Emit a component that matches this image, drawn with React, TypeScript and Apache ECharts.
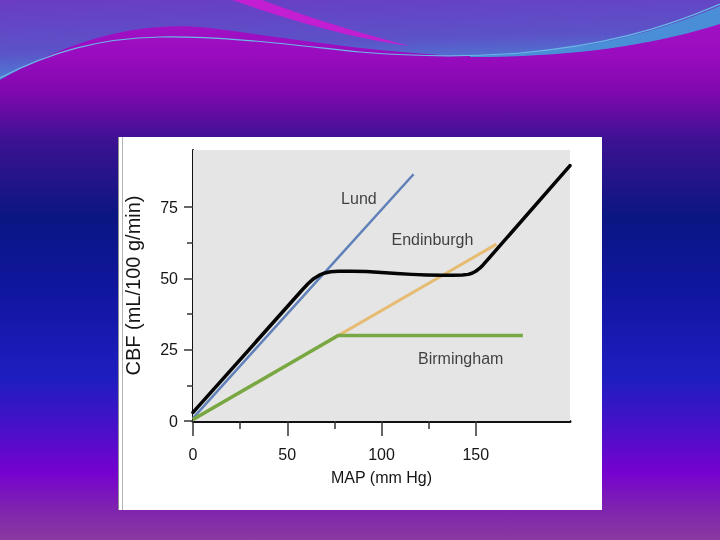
import React, { useEffect, useRef } from "react";
import * as echarts from "echarts";

// ---- data ----
const xMajorTicks = [0, 50, 100, 150];
const xMinorTicks = [25, 75, 125];
const yMajorTicks = [0, 25, 50, 75];
const yMinorTicks = [12.5, 37.5, 62.5];

const lundX = [0, 117];
const lundY = [1, 86.5];
const edinburghX = [0, 161];
const edinburghY = [0.5, 62];
const birminghamX = [0, 77, 175];
const birminghamY = [0.5, 30, 30];
const observedX = [0, 58, 61, 64, 67, 70, 73, 77, 84, 92, 100, 108, 116, 124, 132, 138, 143, 146, 148, 150, 152, 154, 156, 200];
const observedY = [3, 46, 48.1, 49.9, 51.1, 51.9, 52.3, 52.5, 52.5, 52.4, 52.1, 51.7, 51.4, 51.2, 51.1, 51.1, 51.2, 51.4, 51.8, 52.5, 53.5, 54.8, 56.3, 89.5];

const noteLabels = ["Lund", "Endinburgh", "Birmingham"];
const noteX = [88, 127, 142];
const noteY = [78, 63.5, 22];

const zip = (xs: number[], ys: number[]) => xs.map((x, i) => [x, ys[i]]);

// ---- decorative slide shapes ----
echarts.graphic.registerShape(
  "topBand",
  echarts.graphic.extendPath(
    "M0,0 L720,0 L720,22 C650,48 560,56 480,56 C400,56 300,40 210,28 C140,20 70,40 0,80 Z",
    {}
  )
);
echarts.graphic.registerShape(
  "pinkStreak",
  echarts.graphic.extendPath(
    "M232,0 L262,0 C300,14 340,28 410,46 C340,36 285,18 232,0 Z",
    {}
  )
);
echarts.graphic.registerShape(
  "blueBand",
  echarts.graphic.extendPath(
    "M470,56 C570,54 650,36 720,6 L720,24 C650,46 570,57 470,57 Z",
    {}
  )
);
echarts.graphic.registerShape(
  "waveLine",
  echarts.graphic.extendPath(
    "M0,78 C50,52 100,38 160,37 C230,36 300,46 360,52 C420,57 470,57 520,53 C600,46 660,30 720,4",
    {}
  )
);

export default function App() {
  const ref = useRef<HTMLDivElement>(null);

  useEffect(() => {
    if (!ref.current) return;
    const chart = echarts.init(ref.current, undefined, { renderer: "svg" });
    const tickFont = "'Liberation Sans Narrow', 'Liberation Sans', Arial, sans-serif";
    const textColor = "#151515";

    const option: any = {
      animation: false,
      grid: {
        left: 193,
        right: 150,
        top: 150,
        bottom: 119,
        show: true,
        backgroundColor: "#e5e5e5",
        borderWidth: 0,
        z: 1,
      },
      graphic: [
        {
          type: "rect",
          z: -100,
          silent: true,
          shape: { x: 0, y: 0, width: 720, height: 540 },
          style: {
            fill: {
              type: "linear",
              x: 0,
              y: 0,
              x2: 0,
              y2: 1,
              colorStops: [
                { offset: 0, color: "#a814c6" },
                { offset: 0.1, color: "#9a0cc0" },
                { offset: 0.17, color: "#8008ae" },
                { offset: 0.26, color: "#3c1292" },
                { offset: 0.4, color: "#0b1682" },
                { offset: 0.54, color: "#1016a0" },
                { offset: 0.7, color: "#1e1ec0" },
                { offset: 0.78, color: "#4212c8" },
                { offset: 0.875, color: "#7602d0" },
                { offset: 0.94, color: "#7e22b0" },
                { offset: 1, color: "#8a3aa0" },
              ],
            },
          },
        },
        {
          type: "topBand",
          z: -99,
          silent: true,
          style: {
            fill: {
              type: "linear",
              x: 0,
              y: 0,
              x2: 0.3,
              y2: 1,
              colorStops: [
                { offset: 0, color: "#6a3cc2" },
                { offset: 0.6, color: "#5c52c8" },
                { offset: 1, color: "#4a86d6" },
              ],
            },
          },
        },
        {
          type: "pinkStreak",
          z: -98,
          silent: true,
          style: { fill: "#c41ed2" },
        },
        {
          type: "blueBand",
          z: -98,
          silent: true,
          style: { fill: "#4a8ed8" },
        },
        {
          type: "waveLine",
          z: -97,
          silent: true,
          style: { fill: null, stroke: "#6ab8e6", lineWidth: 1.2 },
        },
        {
          type: "rect",
          z: -50,
          silent: true,
          shape: { x: 118, y: 137, width: 484, height: 373 },
          style: { fill: "#ffffff" },
        },
        {
          type: "line",
          z: -49,
          silent: true,
          shape: { x1: 118.5, y1: 137, x2: 118.5, y2: 510 },
          style: { stroke: "#8e8e96", lineWidth: 1 },
        },
        {
          type: "line",
          z: -49,
          silent: true,
          shape: { x1: 122.5, y1: 137, x2: 122.5, y2: 510 },
          style: { stroke: "#b4b4b8", lineWidth: 1 },
        },
      ],
      xAxis: [
        {
          type: "value",
          min: 0,
          max: 200,
          interval: 50,
          position: "bottom",
          name: "MAP (mm Hg)",
          nameLocation: "middle",
          nameGap: 48,
          nameTextStyle: { fontFamily: tickFont, fontSize: 16, color: textColor },
          axisLine: { show: true, lineStyle: { color: "#111", width: 3 } },
          axisTick: {
            show: true,
            customValues: xMajorTicks,
            length: 15,
            lineStyle: { color: "#333", width: 1.5 },
          },
          axisLabel: {
            customValues: xMajorTicks,
            margin: 25,
            fontFamily: tickFont,
            fontSize: 16,
            color: textColor,
          },
          splitLine: { show: false },
        },
        {
          type: "value",
          min: 0,
          max: 200,
          interval: 25,
          position: "bottom",
          axisLine: { show: false },
          axisTick: {
            show: true,
            customValues: xMinorTicks,
            length: 8,
            lineStyle: { color: "#333", width: 1.5 },
          },
          axisLabel: { show: false },
          splitLine: { show: false },
        },
      ],
      yAxis: [
        {
          type: "value",
          min: 0,
          max: 95,
          interval: 25,
          position: "left",
          name: "CBF (mL/100 g/min)",
          nameLocation: "middle",
          nameGap: 50,
          nameRotate: 90,
          nameTextStyle: {
            fontFamily: "'Liberation Sans', Arial, sans-serif",
            fontSize: 20,
            color: textColor,
          },
          axisLine: { show: true, lineStyle: { color: "#111", width: 2 } },
          axisTick: {
            show: true,
            customValues: yMajorTicks,
            length: 9,
            lineStyle: { color: "#333", width: 1.5 },
          },
          axisLabel: {
            customValues: yMajorTicks,
            margin: 15,
            fontFamily: tickFont,
            fontSize: 16,
            color: textColor,
          },
          splitLine: { show: true, lineStyle: { color: "#ffffff", width: 2 } },
        },
        {
          type: "value",
          min: 0,
          max: 95,
          interval: 12.5,
          position: "left",
          axisLine: { show: false },
          axisTick: {
            show: true,
            customValues: yMinorTicks,
            length: 6,
            lineStyle: { color: "#333", width: 1.5 },
          },
          axisLabel: { show: false },
          splitLine: { show: false },
        },
      ],
      series: [
        {
          name: "Lund",
          type: "line",
          xAxisIndex: 0,
          yAxisIndex: 0,
          data: zip(lundX, lundY),
          symbol: "none",
          z: 3,
          lineStyle: { color: "#5f80b8", width: 2.5 },
        },
        {
          name: "Endinburgh",
          type: "line",
          xAxisIndex: 0,
          yAxisIndex: 0,
          data: zip(edinburghX, edinburghY),
          symbol: "none",
          z: 3,
          lineStyle: { color: "#e6bb72", width: 3 },
        },
        {
          name: "Birmingham",
          type: "line",
          xAxisIndex: 0,
          yAxisIndex: 0,
          data: zip(birminghamX, birminghamY),
          symbol: "none",
          z: 4,
          lineStyle: { color: "#78a844", width: 3.5 },
        },
        {
          name: "Observed",
          type: "line",
          xAxisIndex: 0,
          yAxisIndex: 0,
          data: zip(observedX, observedY),
          symbol: "none",
          smooth: false,
          z: 5,
          lineStyle: { color: "#050505", width: 3.5, join: "round", cap: "round" },
        },
        {
          name: "Notes",
          type: "scatter",
          xAxisIndex: 0,
          yAxisIndex: 0,
          symbolSize: 0,
          z: 6,
          data: noteLabels.map((t, i) => ({ value: [noteX[i], noteY[i]], name: t })),
          label: {
            show: true,
            position: "inside",
            formatter: (p: any) => p.name,
            fontFamily: tickFont,
            fontSize: 16,
            color: textColor,
          },
        },
      ],
    };

    chart.setOption(option);
    return () => chart.dispose();
  }, []);

  return (
    <div
      ref={ref}
      style={{ position: "fixed", left: 0, top: 0, width: 720, height: 540 }}
    />
  );
}
